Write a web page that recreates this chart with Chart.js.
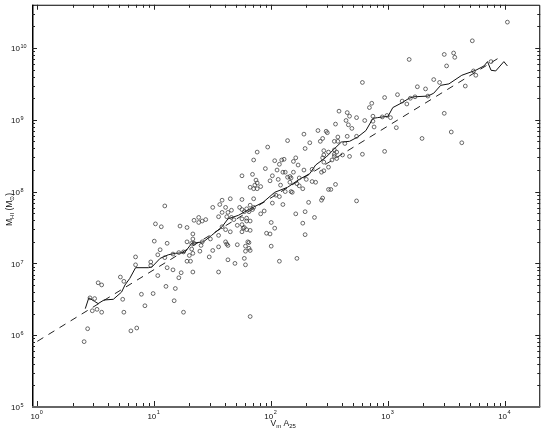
<!DOCTYPE html>
<html>
<head>
<meta charset="utf-8">
<script src="https://cdn.jsdelivr.net/npm/chart.js@4.4.1/dist/chart.umd.min.js"></script>
<style>
  html, body { margin: 0; padding: 0; background: #fff; }
  #wrap { width: 545px; height: 436px; }
</style>
</head>
<body>
<div id="wrap"><canvas id="hiChart" width="545" height="436"></canvas></div>
<script>
// values, as log10 of V_m A_25 and log10 of M_HI
const logVmA25 = [
  0.40, 0.43, 0.45, 0.49, 0.47, 0.51, 0.55, 0.52, 0.55, 0.73, 0.74, 0.80, 0.85, 0.71, 0.74, 0.84, 0.84, 0.89, 0.92, 0.99,
  0.97, 0.97, 1.00, 1.06, 1.11, 1.05, 1.09, 1.11, 1.16, 1.03, 1.10, 1.17, 1.09, 1.03, 1.18, 1.25, 1.75, 1.58, 1.65, 1.75,
  1.50, 1.56, 1.61, 1.66, 1.63, 1.58, 1.73, 1.75, 1.79, 1.55, 1.62, 1.34, 1.38, 1.38, 1.41, 1.44, 1.75, 1.79, 1.01, 1.22,
  1.28, 1.58, 1.71, 1.75, 1.77, 1.61, 1.65, 1.75, 1.33, 1.55, 1.28, 1.33, 1.32, 1.34, 1.41, 1.48, 1.61, 1.63, 1.62, 1.71,
  1.78, 1.81, 1.81, 1.40, 1.55, 1.50, 1.39, 1.32, 1.33, 1.30, 1.16, 1.21, 1.25, 1.47, 1.78, 1.77, 1.28, 1.31, 1.63, 1.69,
  1.78, 1.23, 1.21, 1.33, 1.55, 2.40, 2.28, 2.44, 2.33, 2.14, 1.97, 2.29, 1.88, 2.45, 2.44, 1.85, 2.03, 2.09, 2.11, 2.07,
  2.19, 2.21, 2.23, 1.95, 2.05, 2.10, 2.12, 2.19, 2.28, 2.35, 2.45, 2.43, 1.84, 2.01, 2.14, 2.16, 2.17, 2.24, 2.30, 2.35,
  2.38, 1.99, 2.06, 1.87, 1.88, 1.86, 1.91, 1.82, 1.85, 1.88, 2.08, 2.16, 2.22, 2.24, 2.12, 2.17, 2.18, 2.27, 2.04, 2.07,
  1.85, 2.44, 2.43, 2.32, 2.01, 2.10, 1.82, 1.84, 1.85, 1.94, 1.91, 1.77, 1.81, 2.21, 2.29, 2.37, 1.68, 1.66, 1.79, 1.82,
  1.76, 1.79, 1.82, 2.00, 2.27, 2.03, 1.96, 1.99, 2.29, 1.80, 1.82, 2.00, 2.07, 2.22, 2.78, 2.97, 2.86, 2.84, 2.58, 2.65,
  2.67, 2.73, 2.64, 2.66, 2.80, 2.87, 2.87, 2.95, 2.99, 2.55, 2.88, 2.69, 2.47, 2.48, 2.42, 2.57, 2.65, 2.73, 2.54, 2.57,
  2.63, 2.49, 2.54, 2.56, 2.45, 2.54, 2.54, 2.61, 2.67, 2.97, 2.78, 2.52, 2.56, 2.49, 2.45, 2.55, 2.49, 2.51, 2.73, 3.48,
  3.50, 3.18, 3.39, 3.44, 3.25, 3.32, 3.08, 3.12, 3.16, 3.19, 3.23, 3.34, 3.02, 3.07, 3.48, 3.29, 4.02, 3.72, 3.56, 3.57,
  3.88, 3.73, 3.75, 3.66, 3.54, 3.63, 1.82
];
const logMHI = [
  5.91, 6.09, 6.52, 6.51, 6.34, 6.36, 6.32, 6.73, 6.70, 6.50, 6.32, 6.06, 6.10, 6.81, 6.75, 7.09, 6.98, 6.57, 6.41, 6.58,
  7.02, 6.97, 7.31, 7.51, 7.28, 7.19, 7.08, 6.94, 6.91, 6.83, 6.68, 6.48, 7.80, 7.12, 6.65, 6.32, 8.22, 7.88, 7.90, 7.89,
  7.78, 7.82, 7.78, 7.74, 7.71, 7.71, 7.78, 7.75, 7.76, 7.65, 7.65, 7.60, 7.64, 7.57, 7.59, 7.61, 7.62, 7.63, 7.55, 7.52,
  7.50, 7.51, 7.53, 7.54, 7.50, 7.47, 7.44, 7.44, 7.41, 7.39, 7.30, 7.34, 7.28, 7.28, 7.30, 7.34, 7.30, 7.25, 7.27, 7.26,
  7.24, 7.29, 7.21, 7.25, 7.23, 7.18, 7.17, 7.20, 7.14, 7.11, 7.13, 7.15, 7.16, 7.09, 7.17, 7.07, 7.03, 7.03, 7.05, 7.00,
  6.98, 6.87, 6.80, 6.88, 6.88, 8.85, 8.80, 8.74, 8.68, 8.71, 8.62, 8.60, 8.55, 8.57, 8.47, 8.44, 8.43, 8.44, 8.45, 8.38,
  8.42, 8.47, 8.37, 8.32, 8.30, 8.27, 8.27, 8.27, 8.30, 8.31, 8.29, 8.27, 8.24, 8.22, 8.20, 8.21, 8.19, 8.19, 8.17, 8.14,
  8.13, 8.15, 8.17, 8.16, 8.12, 8.09, 8.07, 8.06, 8.04, 8.04, 8.09, 8.13, 8.11, 8.08, 8.00, 8.00, 7.99, 8.04, 7.95, 7.93,
  7.90, 7.91, 7.88, 7.85, 7.84, 7.82, 7.81, 7.75, 7.78, 7.73, 7.69, 7.72, 7.72, 7.69, 7.72, 7.64, 7.61, 7.64, 7.59, 7.59,
  7.49, 7.47, 7.46, 7.57, 7.56, 7.49, 7.42, 7.41, 7.40, 7.30, 7.18, 7.24, 7.03, 7.07, 9.52, 9.31, 9.23, 9.17, 9.12, 9.10,
  9.05, 9.03, 8.99, 8.93, 8.99, 9.05, 8.98, 9.04, 9.06, 8.94, 8.90, 8.88, 8.84, 8.82, 8.70, 8.76, 8.77, 8.77, 8.70, 8.70,
  8.67, 8.55, 8.58, 8.55, 8.51, 8.52, 8.49, 8.51, 8.49, 8.56, 8.52, 8.44, 8.46, 8.34, 8.41, 8.10, 8.03, 8.03, 7.87, 9.91,
  9.75, 9.84, 9.56, 9.52, 9.46, 9.43, 9.35, 9.26, 9.22, 9.30, 9.32, 9.33, 9.03, 8.89, 9.09, 8.74, 10.36, 10.10, 9.93, 9.87,
  9.81, 9.68, 9.62, 9.47, 8.83, 8.68, 6.26
];

// running median (solid line)
const medianLogV = [
  0.41, 0.44, 0.49, 0.52, 0.57, 0.65, 0.72, 0.75, 0.79, 0.84, 0.95, 0.98, 1.05, 1.12, 1.18, 1.26, 1.32, 1.42, 1.49, 1.58,
  1.63, 1.72, 1.82, 1.93, 2.03, 2.14, 2.24, 2.33, 2.38, 2.47, 2.53, 2.60, 2.67, 2.74, 2.81, 2.87, 2.91, 3.00, 3.04, 3.11,
  3.18, 3.22, 3.34, 3.39, 3.45, 3.52, 3.63, 3.75, 3.82, 3.85, 3.88, 3.92, 3.99, 4.02
];
const medianLogM = [
  6.37, 6.52, 6.47, 6.44, 6.49, 6.50, 6.60, 6.70, 6.79, 6.94, 6.94, 6.95, 7.07, 7.12, 7.14, 7.15, 7.28, 7.30, 7.39, 7.51,
  7.62, 7.67, 7.76, 7.85, 7.99, 8.06, 8.17, 8.25, 8.37, 8.48, 8.58, 8.69, 8.70, 8.76, 8.85, 9.02, 9.03, 9.05, 9.17, 9.23,
  9.30, 9.32, 9.33, 9.37, 9.48, 9.50, 9.62, 9.69, 9.75, 9.81, 9.69, 9.68, 9.81, 9.75
];

// straight fit (dashed line), end points
const fitLogV = [0.0, 3.96];
const fitLogM = [5.915, 9.875];

// tick label exponents
const xTickExps = [0, 1, 2, 3, 4];
const yTickExps = [5, 6, 7, 8, 9, 10];

const toPoints = (lx, ly) => lx.map((v, i) => ({ x: Math.pow(10, v), y: Math.pow(10, ly[i]) }));

const FONT = '"Liberation Sans", Arial, Helvetica, sans-serif';

function drawRuns(ctx, runs, x, y) {
    // runs: [text, isSub]
    let cx = x;
    runs.forEach(r => {
        ctx.font = (r[1] ? '6px ' : '8.5px ') + FONT;
        ctx.fillText(r[0], cx, y + (r[1] ? 2.6 : 0));
        cx += ctx.measureText(r[0]).width;
    });
}

const axesPlugin = {
    id: 'axesPlugin',
    afterDraw(chart) {
        const ctx = chart.ctx;
        const a = chart.chartArea;
        const xs = chart.scales.x, ys = chart.scales.y;
        ctx.save();

        // frame
        ctx.strokeStyle = '#000';
        ctx.lineWidth = 1;
        ctx.beginPath();
        ctx.moveTo(a.left, a.top + 0.5);
        ctx.lineTo(a.right - 0.5, a.top + 0.5);
        ctx.lineTo(a.right - 0.5, a.bottom);
        ctx.stroke();
        ctx.lineWidth = 1.5;
        ctx.beginPath();
        ctx.moveTo(a.left + 0.75, a.top);
        ctx.lineTo(a.left + 0.75, a.bottom);
        ctx.stroke();
        ctx.strokeStyle = '#666';
        ctx.lineWidth = 2;
        ctx.beginPath();
        ctx.moveTo(a.left, a.bottom);
        ctx.lineTo(a.right, a.bottom);
        ctx.stroke();

        // inward ticks, all four sides
        ctx.strokeStyle = '#222';
        ctx.lineWidth = 1;
        for (let e = -1; e <= 10; e++) {
            for (let m = 1; m <= 9; m++) {
                const v = m * Math.pow(10, e);
                const len = m === 1 ? 5 : 3;
                if (v > xs.min && v < xs.max) {
                    const px = Math.round(xs.getPixelForValue(v)) + 0.5;
                    ctx.beginPath();
                    ctx.moveTo(px, a.bottom - 1); ctx.lineTo(px, a.bottom - 1 - len);
                    ctx.moveTo(px, a.top); ctx.lineTo(px, a.top + len);
                    ctx.stroke();
                }
                if (v > ys.min && v < ys.max) {
                    const py = Math.round(ys.getPixelForValue(v)) + 0.5;
                    ctx.beginPath();
                    ctx.moveTo(a.left, py); ctx.lineTo(a.left + len, py);
                    ctx.moveTo(a.right, py); ctx.lineTo(a.right - len, py);
                    ctx.stroke();
                }
            }
        }

        // tick labels 10^n
        ctx.fillStyle = '#111';
        ctx.textBaseline = 'alphabetic';
        xTickExps.forEach(n => {
            const px = xs.getPixelForValue(Math.pow(10, n));
            ctx.font = '8px ' + FONT;
            ctx.textAlign = 'right';
            ctx.fillText('10', px + 2, 418.5);
            ctx.font = '5.5px ' + FONT;
            ctx.textAlign = 'left';
            ctx.fillText(String(n), px + 2.5, 414);
        });
        yTickExps.forEach(n => {
            const py = ys.getPixelForValue(Math.pow(10, n));
            ctx.font = '8px ' + FONT;
            ctx.textAlign = 'right';
            ctx.fillText('10', 20, py + 3.3);
            ctx.font = '5.5px ' + FONT;
            ctx.textAlign = 'left';
            ctx.fillText(String(n), 20.5, py + 0.3);
        });

        // axis titles
        ctx.textAlign = 'left';
        drawRuns(ctx, [['V', false], ['m', true], [' A', false], ['25', true]], 270.5, 425.5);
        ctx.translate(11.5, 226);
        ctx.rotate(-Math.PI / 2);
        drawRuns(ctx, [['M', false], ['HI', true], [' (M', false], ['\u2299', true], [')', false]], 0, 0);
        ctx.restore();
    }
};

const ctx = document.getElementById('hiChart').getContext('2d');
new Chart(ctx, {
    type: 'scatter',
    data: {
        datasets: [
            {
                label: 'galaxies',
                data: toPoints(logVmA25, logMHI),
                pointRadius: 1.9,
                pointStyle: 'circle',
                backgroundColor: 'rgba(0,0,0,0)',
                borderColor: '#3a3a3a',
                borderWidth: 0.75,
                showLine: false
            },
            {
                label: 'running median',
                data: toPoints(medianLogV, medianLogM),
                showLine: true,
                pointRadius: 0,
                borderColor: '#111',
                borderWidth: 1,
                tension: 0
            },
            {
                label: 'fit',
                data: toPoints(fitLogV, fitLogM),
                showLine: true,
                pointRadius: 0,
                borderColor: '#222',
                borderWidth: 1,
                borderDash: [7, 6]
            }
        ]
    },
    options: {
        responsive: false,
        animation: false,
        devicePixelRatio: 1,
        layout: { padding: { left: 32, right: 4, top: 4, bottom: 29 } },
        scales: {
            x: { type: 'logarithmic', min: 0.9, max: 2e4, display: false },
            y: { type: 'logarithmic', min: 1e5, max: 4e10, display: false }
        },
        plugins: {
            legend: { display: false },
            tooltip: { enabled: false }
        }
    },
    plugins: [axesPlugin]
});
</script>
</body>
</html>
